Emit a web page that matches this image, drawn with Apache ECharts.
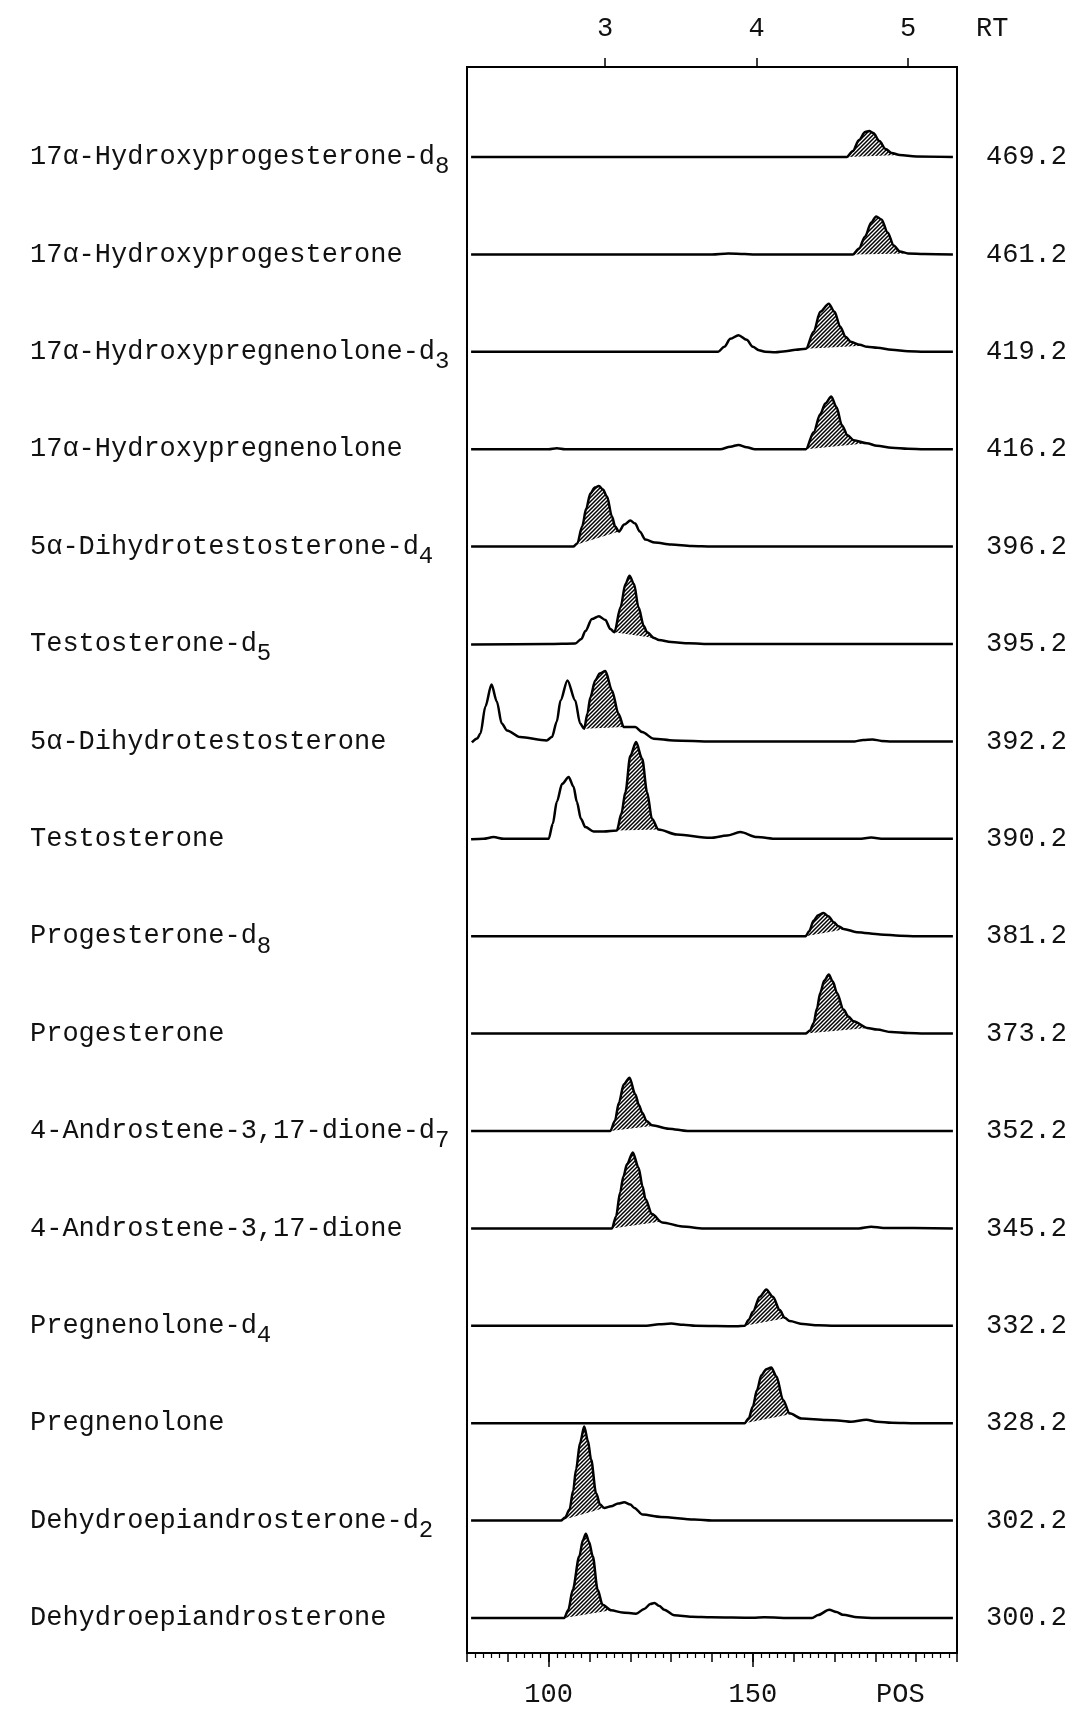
<!DOCTYPE html>
<html><head><meta charset="utf-8">
<script src="https://cdn.jsdelivr.net/npm/echarts@6/dist/echarts.min.js"></script>
<style>html,body{margin:0;padding:0;background:#fff}#c{width:1080px;height:1709px}</style>
</head><body><div id="c"></div>
<script>
// ---- data (POS on x, relative intensity on y) ----
const compounds = [
  '17α-Hydroxyprogesterone-d_8', '17α-Hydroxyprogesterone',
  '17α-Hydroxypregnenolone-d_3', '17α-Hydroxypregnenolone',
  '5α-Dihydrotestosterone-d_4', 'Testosterone-d_5',
  '5α-Dihydrotestosterone', 'Testosterone',
  'Progesterone-d_8', 'Progesterone',
  '4-Androstene-3,17-dione-d_7', '4-Androstene-3,17-dione',
  'Pregnenolone-d_4', 'Pregnenolone',
  'Dehydroepiandrosterone-d_2', 'Dehydroepiandrosterone'
];
const massLabels = ['469.2','461.2','419.2','416.2','396.2','395.2','392.2','390.2',
                    '381.2','373.2','352.2','345.2','332.2','328.2','302.2','300.2'];
const posTickLabels = [100, 150];
const rtTickLabels = [3, 4, 5];

const trace1 = [[81,0],[173,0],[174.5,6],[176,17],[177.5,25],[178.5,26],[179.5,24],[181,16],[182.5,8],[184,4],[186,2],[190,0.5],[199,0]];
const trace2 = [[81,0],[140,0],[144,1],[148,0.3],[150,0],[174.5,0],[176,6],[177.5,18],[179,32],[180.2,38],[181.5,35],[183,22],[184.5,9],[186,3],[188,1],[192,0.3],[199,0]];
const trace3 = [[81,0],[141.5,0],[143,5],[144.5,13],[146.5,16.5],[148.5,12],[150,5],[151.5,1.5],[153,0],[155.5,-0.5],[158,0.5],[160.5,2],[163,3],[164.9,20],[166.5,40],[168.6,48],[170,40],[171.4,25],[172.7,15],[174,10],[176.2,7],[178,5],[180.5,4],[184,2],[188,0.5],[192,0],[199,0]];
const trace4 = [[81,0],[100,0],[102,1],[104,0],[142,0],[144.5,2.5],[146.5,4.3],[148.5,2],[150.5,0],[163,0],[164.9,17],[166.5,35],[167.8,46],[169.2,52.7],[170.5,42],[171.8,24],[173.2,14],[174.7,9],[177.9,6],[180.4,3.5],[184,1.5],[188,0.5],[192,0],[199,0]];
const trace5 = [[81,0],[106,0],[107,3],[108.2,20],[109.2,38],[110.2,53],[111.3,59],[112.3,60.7],[113.3,57],[114.3,50],[115.5,30],[116.3,20],[117.2,15],[118.5,22],[120,26],[121.2,23],[122.3,15],[123.7,7],[126,4],[130,2],[135,0.5],[140,0],[199,0]];
const trace6 = [[81,-0.5],[100,0],[106.5,0.5],[108,5],[109,13],[110.6,25],[112.3,27.7],[113.9,24],[115.1,15],[116.1,11.7],[117.6,36.7],[118.8,60],[119.8,68.3],[120.9,60],[122,36.7],[123.3,18],[124.1,11.7],[125.8,6],[127,4],[130,2],[134.3,0.7],[140,0],[199,0]];
const trace7 = [[81.2,-1],[82.5,3],[83.3,8],[84.5,35],[86,57],[87.3,40],[88.5,18],[89.8,11],[93,4.3],[99.5,1],[100.8,4.3],[102,20],[102.9,41],[104.6,61],[106.5,41],[107.7,18],[108.7,12.7],[109.5,28],[110.2,44],[111.4,61],[112.5,68],[113.9,70.3],[115.5,51],[117.1,27.7],[118.4,14.3],[121.2,14.3],[122.9,9.3],[125.7,2.7],[130.6,1],[140,0],[175,0],[177,1.5],[179.3,2],[181.5,0.5],[184,0],[199,0]];
const trace8 = [[81,-0.5],[84,0],[86.5,1.7],[89,0],[100,0],[101,15],[102,37],[103.3,55],[104.9,61.7],[106.1,52],[106.9,37],[107.9,20],[109,11.7],[111,7.3],[113.5,7.3],[116.7,8.3],[117.8,25],[118.8,46.7],[120,83],[121.4,96.7],[122.9,80],[124.1,46.7],[125.3,20],[126.9,9.3],[131.4,4.3],[139.6,1],[143.7,3.3],[146.9,6.7],[151,1.7],[155.9,0],[176,0],[179,1.2],[182,0],[199,0]];
const trace9 = [[81,0],[162.9,0],[163.8,5],[164.9,15.7],[166,21],[167.3,23.3],[168.5,20],[169.8,14],[171,10],[172.2,7.3],[175.5,4],[181.2,1.7],[186,0.5],[190,0],[199,0]];
const trace10 = [[81,0],[162.9,0],[164,3],[164.9,10.7],[165.7,25],[166.5,40.7],[167.5,53],[168.6,59],[169.6,52],[170.6,40.7],[172.2,24],[173.4,17],[174.7,12.3],[178,5.7],[180.4,4],[184,1.5],[188,0.5],[192,0],[199,0]];
const trace11 = [[81,0],[115.1,0],[116.2,10],[117.2,28.3],[118.4,46.7],[119.8,53.3],[121.2,36.7],[122.1,26],[122.9,18.3],[124,10],[125.3,5.7],[129.4,2.3],[134,0],[199,0]];
const trace12 = [[81,0],[115.5,0],[116.5,12],[117.5,36],[118.3,52],[119.2,64.3],[120.6,76],[122,61],[123,42],[123.7,29.3],[125.3,14.3],[127.8,6],[132.7,2],[138,0],[176,0],[179,1.7],[182,0.5],[199,0]];
const trace13 = [[81,0],[124,0],[127,1.5],[130,2.3],[133,1],[136,0],[146,-0.5],[148,0],[149,6],[150,14],[151.7,29],[153.3,36.3],[154.9,29],[156.6,15.7],[157.8,8],[159,4.7],[162.3,1.7],[166,0.5],[170,0],[199,0]];
const trace14 = [[81,0],[148,0],[149,5],[150,16.7],[151,33],[152.1,48],[153.3,54],[154.5,55.7],[155.8,46.7],[157.4,23.3],[159,10],[161.9,4.7],[168,3.3],[171.5,2.5],[174,1.5],[177.8,3.5],[180.5,1.5],[184,0.5],[190,0],[199,0]];
const trace15 = [[81,0],[103,0],[104,3],[105.1,11],[106,30],[106.7,51],[107.7,78],[108.7,94],[109.6,80],[110.4,61],[111.6,27.7],[112.6,16],[113.6,12.7],[115.3,14.3],[117,17],[118.5,18.3],[120,16],[121,12.7],[123,6],[127.5,3.7],[135.7,1],[140,0],[199,0]];
const trace16 = [[81,0],[103.8,0],[104.8,8],[105.9,28.3],[107.5,61.7],[108.4,78],[109.1,84.3],[109.9,76],[110.8,61.7],[112,28.3],[113.2,13.3],[115.3,7.7],[118,5.5],[121.4,4.3],[123.4,9],[124.9,14],[125.9,15],[127.1,12],[128.3,8.3],[130.8,2.7],[135,1.2],[139.8,0.7],[150,0.2],[152.8,0.7],[160,0],[164.5,0],[166,3],[168.7,8.3],[170.5,6],[172,3.3],[175.7,0.7],[180,0],[199,0]];

// shaded (integrated) peak windows, POS start / end
const shadedWindows = [[173,186],[174.5,188],[163,177],[163,178],[106.5,117.2],[116.1,125.8],
  [108.7,118.4],[116.7,126.9],[162.9,172.5],[162.9,178],[115.1,125.8],[115.5,127.5],
  [148,158],[148,159.5],[103,113.6],[103.8,115.3]];

const traces = [trace1,trace2,trace3,trace4,trace5,trace6,trace7,trace8,
                trace9,trace10,trace11,trace12,trace13,trace14,trace15,trace16];

// ---- layout ----
const FONT = 'Liberation Mono';
const L = 467, R = 123, TOP = 67, BOT = 56;
const ROW0 = 157, ROWSTEP = 97.4, ROWH = 100;

const pat = document.createElement('canvas');
pat.width = 4; pat.height = 4;
(function(){const c = pat.getContext('2d'); c.strokeStyle = '#000'; c.lineWidth = 1.5;
  c.beginPath(); c.moveTo(0,4); c.lineTo(4,0); c.moveTo(-1,1); c.lineTo(1,-1); c.moveTo(3,5); c.lineTo(5,3); c.stroke();})();

function yAt(tr, x){
  for (let i = 1; i < tr.length; i++) {
    if (tr[i][0] >= x) { const a = tr[i-1], b = tr[i]; const t = (x - a[0]) / (b[0] - a[0]); return a[1] + t * (b[1] - a[1]); }
  }
  return tr[tr.length-1][1];
}

const grids = [
  {left: L, right: R, top: TOP, bottom: BOT, show: true, borderColor: '#000', borderWidth: 2, backgroundColor: 'transparent'},
  {left: L, right: R, top: ROW0 - ROWSTEP/2, height: ROWSTEP * 16}
];
const xAxes = [
  {type:'value', gridIndex:0, position:'bottom', min:80, max:200, interval:10,
   axisLine:{show:true, lineStyle:{color:'#000', width:2}},
   axisTick:{show:true, length:9, lineStyle:{color:'#000', width:1.5}},
   minorTick:{show:true, splitNumber:5, length:5, lineStyle:{color:'#000', width:1.2}},
   axisLabel:{show:false}, splitLine:{show:false}},
  {type:'value', gridIndex:0, position:'bottom', min:80, max:200,
   axisLine:{show:false},
   axisTick:{show:true, customValues: posTickLabels, length:14, lineStyle:{color:'#000', width:1.5}},
   axisLabel:{show:true, customValues: posTickLabels, margin:28, color:'#111', fontFamily:FONT, fontSize:27},
   splitLine:{show:false}},
  {type:'value', gridIndex:0, position:'top', min:2.089, max:5.323,
   axisLine:{show:true, lineStyle:{color:'#000', width:2}},
   axisTick:{show:true, customValues: rtTickLabels, length:9, lineStyle:{color:'#000', width:1.5}},
   axisLabel:{show:true, customValues: rtTickLabels, margin:25, color:'#111', fontFamily:FONT, fontSize:27},
   splitLine:{show:false}},
  {type:'value', gridIndex:1, show:false, min:80, max:200}
];
function fmtName(v){ const p = v.split('_'); return '{n|' + p[0] + '}{s|' + (p[1] || ' ') + '}'; }
const yAxes = [
  {type:'value', gridIndex:0, show:false},
  {type:'category', gridIndex:1, position:'left', inverse:true, data: compounds,
   axisLine:{show:false}, axisTick:{show:false}, splitLine:{show:false},
   axisLabel:{interval:0, align:'left', margin: L - 30, formatter: fmtName,
     rich:{ n:{fontFamily:FONT, fontSize:27, color:'#111', lineHeight:30, verticalAlign:'middle'},
            s:{fontFamily:FONT, fontSize:24, color:'#111', lineHeight:26, padding:[20,0,0,0], verticalAlign:'middle'} }}},
  {type:'category', gridIndex:1, position:'right', inverse:true, data: massLabels,
   axisLine:{show:false}, axisTick:{show:false}, splitLine:{show:false},
   axisLabel:{interval:0, align:'left', margin:29, fontFamily:FONT, fontSize:27, color:'#111'}}
];
const series = [];
traces.forEach((tr, k) => {
  grids.push({left: L, right: R, top: ROW0 + ROWSTEP * k - ROWH, height: ROWH + 5});
  xAxes.push({type:'value', gridIndex: 2 + k, show:false, min:80, max:200});
  yAxes.push({type:'value', gridIndex: 2 + k, show:false, min:-5, max:100});
  const xi = xAxes.length - 1, yi = yAxes.length - 1;
  series.push({
    type:'custom', xAxisIndex: xi, yAxisIndex: yi, silent:true, z:1,
    data: [shadedWindows[k]], encode: {x: [0, 1]},
    renderItem: function(params, api){
      const s = api.value(0), e = api.value(1);
      const pts = [[s, yAt(tr, s)]];
      tr.forEach(p => { if (p[0] > s && p[0] < e) pts.push(p); });
      pts.push([e, yAt(tr, e)]);
      return {type:'polygon', shape:{points: pts.map(p => api.coord(p))},
              style:{fill:{image: pat, repeat:'repeat'}, stroke:null}};
    }
  });
  series.push({
    type:'line', xAxisIndex: xi, yAxisIndex: yi, data: tr, showSymbol:false, silent:true,
    smooth:0.3, smoothMonotone:'x', z:3,
    lineStyle:{color:'#000', width:2.5}
  });
});

const chart = echarts.init(document.getElementById('c'), null, {renderer:'canvas'});
chart.setOption({
  animation:false,
  backgroundColor:'#fff',
  textStyle:{fontFamily:FONT},
  grid: grids, xAxis: xAxes, yAxis: yAxes, series: series,
  graphic:[
    {type:'text', left:976, top:15, style:{text:'RT', fontFamily:FONT, fontSize:27, fill:'#111'}},
    {type:'text', left:876, top:1681, style:{text:'POS', fontFamily:FONT, fontSize:27, fill:'#111'}}
  ]
});
</script></body></html>
